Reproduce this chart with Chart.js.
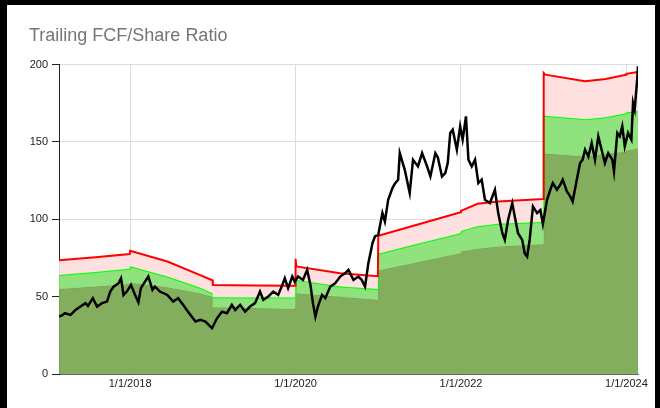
<!DOCTYPE html>
<html>
<head>
<meta charset="utf-8">
<script src="https://cdn.jsdelivr.net/npm/chart.js@4"></script>
<style>
  html, body { margin: 0; padding: 0; background: #fff; }
  #wrap { position: relative; width: 660px; height: 408px; }
  #frame {
    position: absolute; left: 0; top: 0; width: 660px; height: 408px;
    box-sizing: border-box; pointer-events: none;
    border-top: 5px solid #000; border-left: 7px solid #000; border-right: 5px solid #000;
  }
</style>
</head>
<body>
<div id="wrap">
  <canvas id="fcfChart" width="660" height="408"></canvas>
  <div id="frame"></div>
</div>
<script>
// dates as decimal years
const priceDates = [
  2017.14, 2017.18, 2017.21, 2017.28, 2017.34, 2017.40, 2017.46, 2017.49, 2017.55, 2017.60, 2017.66, 2017.72, 2017.76, 2017.80, 2017.86, 2017.89, 2017.92, 2017.96,
  2018.01, 2018.06, 2018.10, 2018.13, 2018.18, 2018.22, 2018.27, 2018.30, 2018.36, 2018.45, 2018.52, 2018.58, 2018.64, 2018.70, 2018.79, 2018.85, 2018.91, 2018.99,
  2019.05, 2019.11, 2019.17, 2019.23, 2019.27, 2019.33, 2019.39, 2019.45, 2019.51, 2019.57, 2019.61, 2019.67, 2019.73, 2019.79, 2019.84, 2019.87, 2019.91, 2019.96, 2019.99,
  2020.03, 2020.09, 2020.14, 2020.18, 2020.21, 2020.24, 2020.27, 2020.32, 2020.36, 2020.42, 2020.48, 2020.54, 2020.60, 2020.64, 2020.70, 2020.76, 2020.80, 2020.84, 2020.88, 2020.93, 2020.96,
  2021.00, 2021.05, 2021.08, 2021.12, 2021.17, 2021.20, 2021.24, 2021.26, 2021.32, 2021.38, 2021.42, 2021.48, 2021.53, 2021.59, 2021.63, 2021.69, 2021.72, 2021.77, 2021.81, 2021.84, 2021.87, 2021.90, 2021.95, 2021.99,
  2022.02, 2022.06, 2022.09, 2022.13, 2022.17, 2022.21, 2022.25, 2022.29, 2022.35, 2022.41, 2022.45, 2022.50, 2022.53, 2022.57, 2022.62, 2022.65, 2022.69, 2022.74, 2022.77, 2022.80, 2022.83, 2022.87, 2022.92, 2022.96, 2022.99,
  2023.04, 2023.08, 2023.11, 2023.16, 2023.20, 2023.23, 2023.28, 2023.32, 2023.35, 2023.40, 2023.44, 2023.47, 2023.50, 2023.54, 2023.58, 2023.62, 2023.66, 2023.70, 2023.74, 2023.78, 2023.83, 2023.85, 2023.89, 2023.92, 2023.95, 2023.98,
  2024.02, 2024.06, 2024.08, 2024.10, 2024.13, 2024.14
];
const priceValues = [
  37.1, 38, 39.3, 38.2, 41.4, 43.6, 45.8, 44, 49, 43.6, 45.8, 46.8, 53.3, 56.5, 58.7, 61.9, 51.1, 53.3,
  57.6, 51.1, 46.4, 55.5, 59.7, 63, 54.4, 56.5, 53.3, 51.1, 46.8, 49, 44.7, 40.3, 33.9, 35, 33.9, 29.6,
  36, 40.3, 39.3, 44.7, 41.4, 44.7, 40.3, 43.6, 45.8, 53.3, 47.9, 50, 53.3, 51.1, 57.6, 61.9, 55.5, 63, 59.7,
  63, 60.8, 67.3, 57.6, 45.8, 37.1, 43.6, 51.1, 49, 56.5, 58.7, 63, 65.2, 67.3, 60.8, 63, 60.8, 56.5, 71.6, 84.6, 88.9,
  90, 104, 98.6, 112.6, 120, 123, 125.6, 142.8, 132, 117, 138.5, 134.2, 142.8, 134.2, 127.7, 142.8, 140, 127.7, 129.9, 136.4, 155.8, 157.9, 145, 160.1,
  151.5, 166.5, 138.5, 134.2, 138.5, 123.4, 125.6, 112.6, 110.5, 119.1, 104, 91, 86.7, 99.7, 110.5, 101.8, 91, 86.7, 78.1, 75.9, 86.7, 108.3, 104, 106, 97,
  112.6, 119.1, 123.4, 119.1, 122.3, 125.6, 118, 114.8, 111.5, 125.6, 136.4, 138.5, 145, 140.6, 149.3, 138.5, 153.6, 145, 136.4, 142.8, 138.5, 130.9, 155.8, 153.6, 160.1, 147.1,
  155.8, 151.5, 175.2, 170.9, 190.3, 199
];

// fair value bands (reset each January)
const bandDates = [
  2017.14, 2017.58, 2017.995, 2018.0, 2018.45, 2018.84, 2018.995, 2019.0, 2019.5, 2019.995,
  2020.0, 2020.01, 2020.54, 2020.995, 2021.0, 2021.5, 2021.995, 2022.0, 2022.2, 2022.45, 2022.995,
  2023.0, 2023.02, 2023.5, 2023.75, 2023.995, 2024.0, 2024.14
];
const highBand = [
  73.5, 75.5, 77.5, 79.6, 72.7, 64.1, 60.6, 57.6, 57.2, 57.0,
  74.5, 69.5, 65.2, 63.2, 89.3, 97, 104.6, 105.5, 110, 111.5, 113.1,
  194.6, 193.5, 189.2, 190.7, 193.5, 194, 195.3
];
const midBand = [
  64.0, 66, 68.0, 69.6, 63, 55.9, 52.2, 49.6, 49.5, 49.4,
  61.5, 60.8, 56.5, 55.0, 77.7, 84.5, 91.0, 92.5, 95.5, 97.1, 98.2,
  167.6, 167, 164.6, 166, 168.5, 169.2, 169.8
];
const lowBand = [
  55.0, 56.5, 58.1, 59.0, 56.1, 52.2, 50.0, 43.2, 42.6, 42.0,
  52.5, 52.2, 50.0, 48.0, 66.9, 72.5, 78.1, 79.2, 81, 82.4, 83.9,
  142.8, 142.5, 140.6, 142, 143.9, 144.5, 145.6
];
const xTicks = [2018, 2020, 2022, 2024];

function pts(dates, vals) {
    return dates.map((d, i) => ({ x: d, y: vals[i] }));
}

Chart.defaults.font.family = "'Liberation Sans', Arial, sans-serif";

let fcfChart;

function createChart() {
    const ctx = document.getElementById('fcfChart').getContext('2d');
    fcfChart = new Chart(ctx, {
        type: 'line',
        data: {
            datasets: [
                {
                    label: 'Price',
                    data: pts(priceDates, priceValues),
                    borderColor: '#000',
                    borderWidth: 2.5,
                    borderJoinStyle: 'miter',
                    fill: false
                },
                {
                    label: 'High',
                    data: pts(bandDates, highBand),
                    borderColor: '#ff0000',
                    borderWidth: 2,
                    backgroundColor: 'rgba(255, 222, 222, 0.95)',
                    fill: '+1'
                },
                {
                    label: 'Mid',
                    data: pts(bandDates, midBand),
                    borderColor: '#00ff00',
                    borderWidth: 2,
                    backgroundColor: 'rgba(137, 224, 118, 0.95)',
                    fill: '+1'
                },
                {
                    label: 'Low',
                    data: pts(bandDates, lowBand),
                    borderColor: 'rgba(100, 150, 60, 0.6)',
                    borderWidth: 1,
                    backgroundColor: 'rgba(124, 170, 84, 0.95)',
                    fill: 'origin'
                }
            ]
        },
        options: {
            animation: false,
            responsive: false,
            elements: { point: { radius: 0 }, line: { tension: 0 } },
            layout: { padding: { left: 29, top: 25, right: 22, bottom: 14 } },
            plugins: {
                legend: { display: false },
                tooltip: { enabled: false },
                title: {
                    display: true,
                    text: 'Trailing FCF/Share Ratio',
                    align: 'start',
                    color: '#757575',
                    font: { size: 18, weight: 'normal' },
                    padding: { top: 0, bottom: 18 }
                }
            },
            scales: {
                x: {
                    type: 'linear',
                    min: 2017.14,
                    max: 2024.14,
                    afterBuildTicks: (scale) => { scale.ticks = xTicks.map(v => ({ value: v })); },
                    afterFit: (scale) => { scale.height = 20; },
                    grid: { color: '#dcdcdc', drawTicks: false },
                    border: { color: '#666' },
                    ticks: {
                        color: '#222',
                        font: { size: 11 },
                        padding: 3,
                        maxRotation: 0,
                        autoSkip: false,
                        callback: (v) => '1/1/' + v
                    }
                },
                y: {
                    min: 0,
                    max: 200,
                    afterFit: (scale) => { scale.width = 30; },
                    grid: { color: '#dcdcdc', tickColor: '#222', tickLength: 7 },
                    border: { color: '#222' },
                    ticks: { stepSize: 50, color: '#222', font: { size: 11 }, padding: 4 }
                }
            }
        }
    });
}

window.onload = function () {
    createChart();
};
</script>
</body>
</html>
